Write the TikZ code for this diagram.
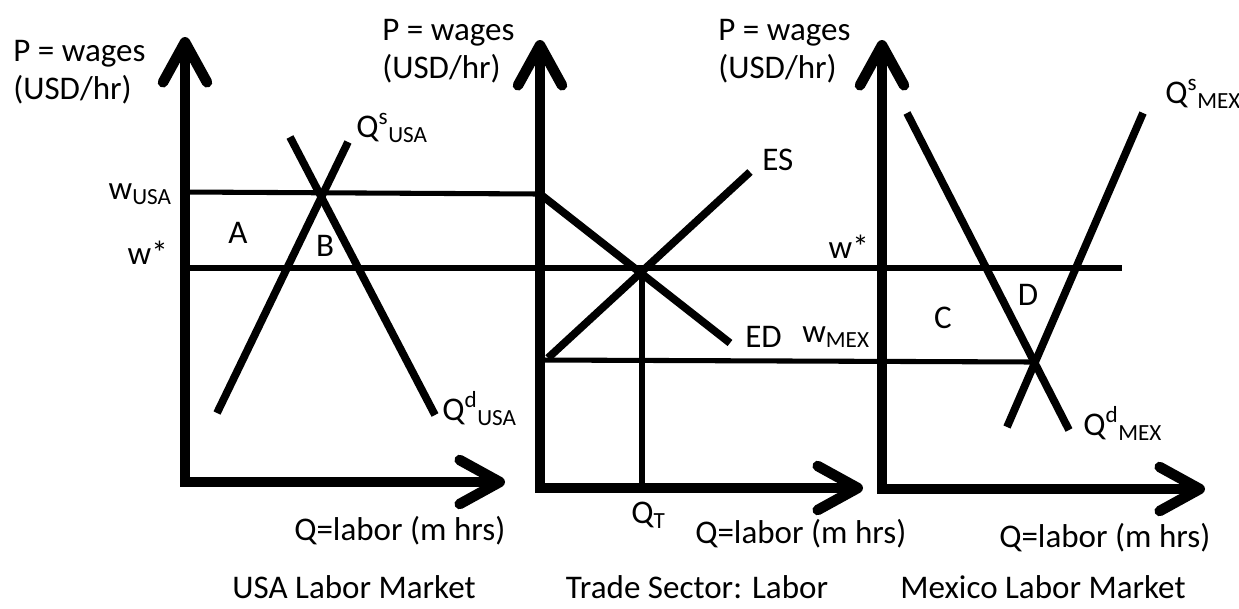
\documentclass[tikz,border=0pt]{standalone}
\usepackage{fontspec}
\setmainfont{Carlito}
\usetikzlibrary{arrows.meta}

\begin{document}
\begin{tikzpicture}[x=0.025cm, y=-0.025cm,
  barb/.tip={Straight Barb[length=10mm, width=11mm, round]},
  axis/.style={line width=7.5pt, barb-barb},
  curve/.style={line width=5.5pt},
  level/.style={line width=3.6pt},
  lbl/.style={inner sep=0pt, font=\fontsize{23.5}{27}\selectfont},
  ylbl/.style={lbl, align=left, anchor=north west}]
  \useasboundingbox (0,0) rectangle (1239,608);

  % USA labor market
  \coordinate (usa top) at (185,37);
  \coordinate (usa org) at (185,482);
  \coordinate (usa end) at (505,482);
  \coordinate (usa wusa) at (185,192);
  \coordinate (usa wstar) at (185,268);
  \coordinate (usa s lo) at (217,413);
  \coordinate (usa s hi) at (348,142);
  \coordinate (usa d hi) at (290,137);
  \coordinate (usa d lo) at (435,415);

  % trade sector
  \coordinate (tr top) at (540,40);
  \coordinate (tr org) at (540,488);
  \coordinate (tr end) at (863,488);
  \coordinate (tr wusa) at (540,194);
  \coordinate (tr wmex) at (540,360);
  \coordinate (tr ed) at (730,343);
  \coordinate (tr es lo) at (548,358);
  \coordinate (tr es hi) at (750,172);
  \coordinate (tr eq) at (642,270);
  \coordinate (tr qt) at (642,488);

  % Mexico labor market
  \coordinate (mex top) at (882,40);
  \coordinate (mex org) at (882,489);
  \coordinate (mex end) at (1205,489);
  \coordinate (mex wstar) at (1122,268);
  \coordinate (mex eq) at (1034,362);
  \coordinate (mex d hi) at (907,113);
  \coordinate (mex d lo) at (1069,430);
  \coordinate (mex s lo) at (1007,427);
  \coordinate (mex s hi) at (1143,113);

  \draw[axis] (usa top) -- (usa org) -- (usa end);
  \draw[axis] (tr top) -- (tr org) -- (tr end);
  \draw[axis] (mex top) -- (mex org) -- (mex end);

  \draw[level] (usa wusa) -- (tr wusa);
  \draw[level] (usa wstar) -- (mex wstar);
  \draw[level] (tr wmex) -- (mex eq);
  \draw[level] (tr eq) -- (tr qt);

  \draw[curve] (usa s lo) -- (usa s hi);
  \draw[curve] (usa d hi) -- (usa d lo);
  \draw[curve] (tr wusa) -- (tr ed);
  \draw[curve] (tr es lo) -- (tr es hi);
  \draw[curve] (mex d hi) -- (mex d lo);
  \draw[curve] (mex s lo) -- (mex s hi);

  % axis labels
  \node[ylbl] (usa p) at (13,40) {P = wages\\(USD/hr)};
  \node[ylbl] (tr p) at (382,19) {P = wages\\(USD/hr)};
  \node[ylbl] (mex p) at (718,19) {P = wages\\(USD/hr)};
  \node[lbl, anchor=base west] (usa q) at (294,540) {Q=labor (m hrs)};
  \node[lbl, anchor=base west] (tr q) at (695,543) {Q=labor (m hrs)};
  \node[lbl, anchor=base west] (mex q) at (999,547) {Q=labor (m hrs)};

  % price levels
  \node[lbl, anchor=base east] (l wusa) at (172,199) {w\textsubscript{USA}};
  \node[lbl, anchor=base east] (l wstar1) at (168,264) {w*};
  \node[lbl, anchor=base east] (l wstar2) at (869,258) {w*};
  \node[lbl, anchor=base east] (l wmex) at (870,342) {w\textsubscript{MEX}};

  % curve labels
  \node[lbl, anchor=base west] (l usa s) at (356,137) {Q\textsuperscript{s}\textsubscript{USA}};
  \node[lbl, anchor=base west] (l usa d) at (442,420) {Q\textsuperscript{d}\textsubscript{USA}};
  \node[lbl, anchor=base west] (l es) at (762,170) {ES};
  \node[lbl, anchor=base west] (l ed) at (745,347) {ED};
  \node[lbl, anchor=base west] (l qt) at (631,523) {Q\textsubscript{T}};
  \node[lbl, anchor=base west] (l mex s) at (1165,103) {Q\textsuperscript{s}\textsubscript{MEX}};
  \node[lbl, anchor=base west] (l mex d) at (1083,435) {Q\textsuperscript{d}\textsubscript{MEX}};

  % areas
  \node[lbl] (area a) at (238,233) {A};
  \node[lbl] (area b) at (325,246) {B};
  \node[lbl] (area c) at (943,318) {C};
  \node[lbl] (area d) at (1028,295) {D};

  % panel titles
  \node[lbl, anchor=base] (t usa) at (354,598) {USA Labor Market};
  \node[lbl, anchor=base] (t tr) at (697,598) {Trade Sector: Labor};
  \node[lbl, anchor=base] (t mex) at (1043,598) {Mexico Labor Market};
\end{tikzpicture}
\end{document}
